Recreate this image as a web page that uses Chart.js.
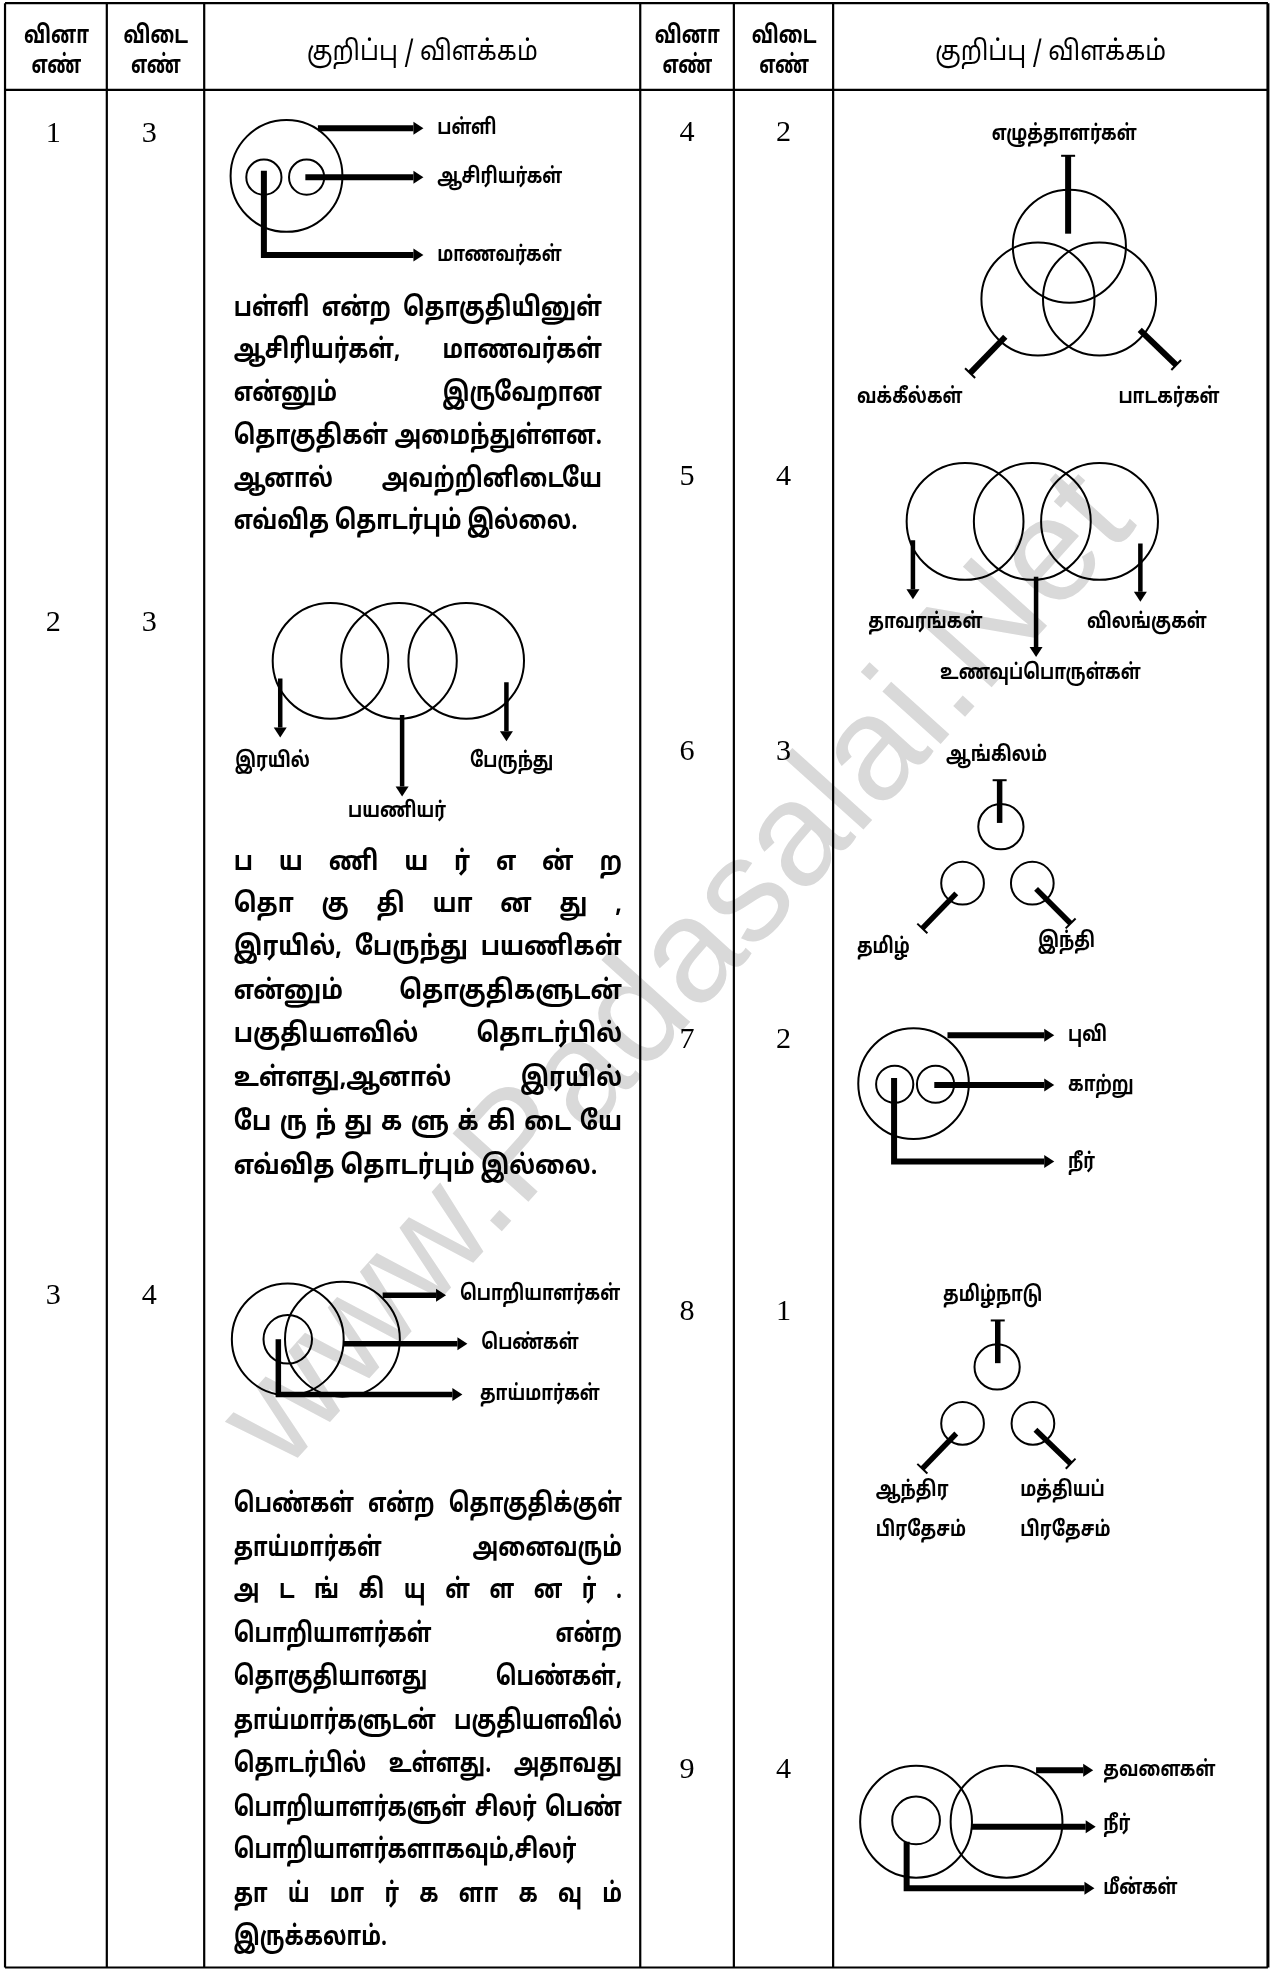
<!DOCTYPE html>
<html lang="ta">
<head>
<meta charset="utf-8">
<title>வினா - விடை விளக்கம்</title>
<script src="https://cdn.jsdelivr.net/npm/chart.js@4.4.1/dist/chart.umd.min.js"></script>
<style>
  html, body { margin: 0; padding: 0; background: #fff; }
  #page { position: relative; width: 1283px; height: 1970px; overflow: hidden; }
  #chart { position: absolute; left: 0; top: 0; z-index: 1; }
  .layer { position: absolute; left: 0; top: 0; width: 1021px; height: 1568px;
           transform: scale(1.25661, 1.25638); transform-origin: 0 0; }
  #mark { z-index: 0; }
  #text { z-index: 2; }
  .t { position: absolute; white-space: nowrap; line-height: 1; color: #000;
       font-family: "Noto Sans Tamil", "Lohit Tamil", "Noto Sans", sans-serif; }
  .num { font-family: "Liberation Serif", "DejaVu Serif", serif; font-size: 24px; font-weight: normal;
         transform: translate(-50%, -50%); }
  .head { font-size: 20px; font-weight: bold; transform: translate(-50%, -50%) scaleX(0.74); }
  .note { font-size: 22px; font-weight: normal; transform: translate(-50%, -50%) scaleX(0.88); }
  .lab { font-size: 17px; font-weight: bold; transform: translateY(-50%) scaleX(0.8); transform-origin: 0 50%; }
  .lab.c { transform: translate(-50%, -50%) scaleX(0.8); transform-origin: 50% 50%; }
  .pl { font-size: 21.5px; font-weight: bold; transform-origin: 0 50%; }
  .pl.j { display: flex; justify-content: space-between; }
  .wm { position: absolute; white-space: nowrap; line-height: 1; color: #d9d9d9;
        font-family: "Liberation Sans", Arial, sans-serif; font-size: 118px;
        transform: translate(-50%, -50%) rotate(-48deg); }
</style>
</head>
<body>
<div id="page">
  <div id="mark" class="layer"></div>
  <canvas id="chart" width="1283" height="1970"></canvas>
  <div id="text" class="layer"></div>
</div>
<script>
// all values are in units of the reference page, 1021 wide x 1568 tall

// table frame
const colEdges = [4, 85, 162.5, 509.5, 584, 663, 1009];
const rowEdges = [2.5, 71.6, 1566];

// header texts
const headQ = ['வினா', 'எண்'];
const headA = ['விடை', 'எண்'];
const headNote = 'குறிப்பு / விளக்கம்';

// question / answer numbers
const leftQ = ['1', '2', '3'];
const leftA = ['3', '3', '4'];
const leftRowY = [105, 494, 1030];
const rightQ = ['4', '5', '6', '7', '8', '9'];
const rightA = ['2', '4', '3', '2', '1', '4'];
const rightRowY = [104, 378, 597, 826, 1043, 1407];

// explanations (one entry per printed line)
const para1 = [
  'பள்ளி என்ற தொகுதியினுள்',
  'ஆசிரியர்கள், மாணவர்கள்',
  'என்னும் இருவேறான',
  'தொகுதிகள் அமைந்துள்ளன.',
  'ஆனால் அவற்றினிடையே',
  'எவ்வித தொடர்பும் இல்லை.'
];
const para1Y = [246, 280, 314, 348, 382, 416];
const para2 = [
  'ப ய ணி ய ர் எ ன் ற',
  'தொ கு தி யா ன து ,',
  'இரயில், பேருந்து பயணிகள்',
  'என்னும் தொகுதிகளுடன்',
  'பகுதியளவில் தொடர்பில்',
  'உள்ளது,ஆனால் இரயில்',
  'பே ரு ந் து க ளு க் கி டை யே',
  'எவ்வித தொடர்பும் இல்லை.'
];
const para2Y = [687, 721, 755, 790, 824, 859, 894, 929];
const para3 = [
  'பெண்கள் என்ற தொகுதிக்குள்',
  'தாய்மார்கள் அனைவரும்',
  'அ ட ங் கி யு ள் ள ன ர் .',
  'பொறியாளர்கள் என்ற',
  'தொகுதியானது பெண்கள்,',
  'தாய்மார்களுடன் பகுதியளவில்',
  'தொடர்பில் உள்ளது. அதாவது',
  'பொறியாளர்களுள் சிலர் பெண்',
  'பொறியாளர்களாகவும்,சிலர்',
  'தா ய் மா ர் க ளா க வு ம்',
  'இருக்கலாம்.'
];
const para3Y = [1198, 1232.5, 1267, 1301.5, 1336, 1370.5, 1405, 1439.5, 1474, 1508.5, 1543];

// diagrams: circles [cx, cy, r], arrows [points...], labels [text, x, y, align]
const d1Circles = [[228, 140, 44.5], [210, 141, 14], [244, 141, 14]];
const d1Arrows = [[[253, 102], [329, 102]], [[243, 141], [329, 141]], [[210, 136], [210, 203], [329, 203]]];
const d1Labels = [['பள்ளி', 348, 102], ['ஆசிரியர்கள்', 348, 141], ['மாணவர்கள்', 348, 203]];

const d2Circles = [[263, 526, 46], [317.5, 526, 46], [371, 526, 46]];
const d2Arrows = [[[223, 540], [223, 579]], [[320, 569], [320, 626]], [[403, 543], [403, 582]]];
const d2Labels = [['இரயில்', 187, 606], ['பேருந்து', 374, 606], ['பயணியர்', 277, 646]];

const d3Circles = [[229, 1066, 44.5], [229, 1066, 19.3], [272.5, 1066, 45.7]];
const d3Arrows = [[[304.5, 1031], [347, 1031]], [[273, 1069.5], [364, 1069.5]], [[221.5, 1066], [221.5, 1110], [360, 1110]]];
const d3Labels = [['பொறியாளர்கள்', 366, 1030], ['பெண்கள்', 383, 1069], ['தாய்மார்கள்', 382, 1110]];

const d4Circles = [[851, 196, 45], [826, 238, 45], [875, 238, 45]];
const d4Arrows = [[[850, 186], [850, 124]], [[800, 268], [772, 297]], [[907, 262.5], [936, 290.5]]];
const d4Labels = [['எழுத்தாளர்கள்', 847, 107, 'c'], ['வக்கீல்கள்', 682, 316], ['பாடகர்கள்', 889.5, 316]];

const d5Circles = [[768, 415, 46.5], [821.5, 415, 46.5], [875, 415, 46.5]];
const d5Arrows = [[[726.5, 430], [726.5, 469]], [[824.5, 459], [824.5, 515]], [[907.5, 432.5], [907.5, 471]]];
const d5Labels = [['தாவரங்கள்', 690.5, 495], ['விலங்குகள்', 865, 495], ['உணவுப்பொருள்கள்', 828, 536, 'c']];

const d6Circles = [[796.5, 658, 18], [766, 703, 17], [821.5, 703, 17]];
const d6Arrows = [[[795.5, 655], [795.5, 621]], [[761, 711], [734, 739]], [[824.5, 707.5], [852, 735]]];
const d6Labels = [['ஆங்கிலம்', 792.5, 601, 'c'], ['தமிழ்', 682, 754], ['இந்தி', 826, 749]];

const d7Circles = [[727, 862.5, 44], [712, 863, 14.8], [744.5, 863, 14.8]];
const d7Arrows = [[[754, 824], [831, 824]], [[743.5, 863.5], [831, 863.5]], [[711.5, 858], [711.5, 924.5], [831, 924.5]]];
const d7Labels = [['புவி', 850, 824], ['காற்று', 850, 863.5], ['நீர்', 850, 924.5]];

const d8Circles = [[793.5, 1088, 18], [766, 1133, 17], [822, 1133, 17]];
const d8Arrows = [[[794, 1085], [794, 1051]], [[761, 1141], [734, 1169]], [[824, 1138], [852, 1165]]];
const d8Labels = [['தமிழ்நாடு', 789.5, 1031, 'c'], ['ஆந்திர', 697, 1186], ['பிரதேசம்', 697, 1218],
                  ['மத்தியப்', 812, 1186], ['பிரதேசம்', 812, 1218]];

const d9Circles = [[729, 1450, 44.5], [801, 1450, 44.5], [729, 1449, 19]];
const d9Arrows = [[[824.5, 1409], [862, 1409]], [[773, 1454], [864, 1454]], [[721.5, 1466], [721.5, 1503], [863, 1503]]];
const d9Labels = [['தவளைகள்', 878, 1409], ['நீர்', 878, 1452], ['மீன்கள்', 878, 1503]];

const watermark = 'www.Padasalai.Net';

// ---------------------------------------------------------------

const diagrams = [
  { circles: d1Circles, arrows: d1Arrows, labels: d1Labels, head: 'arrow', shaft: 6 },
  { circles: d2Circles, arrows: d2Arrows, labels: d2Labels, head: 'arrow', shaft: 4.5 },
  { circles: d3Circles, arrows: d3Arrows, labels: d3Labels, head: 'arrow', shaft: 5.5 },
  { circles: d4Circles, arrows: d4Arrows, labels: d4Labels, head: 'tee', shaft: 6 },
  { circles: d5Circles, arrows: d5Arrows, labels: d5Labels, head: 'arrow', shaft: 4.5 },
  { circles: d6Circles, arrows: d6Arrows, labels: d6Labels, head: 'tee', shaft: 5.5 },
  { circles: d7Circles, arrows: d7Arrows, labels: d7Labels, head: 'arrow', shaft: 6 },
  { circles: d8Circles, arrows: d8Arrows, labels: d8Labels, head: 'tee', shaft: 5.5 },
  { circles: d9Circles, arrows: d9Arrows, labels: d9Labels, head: 'arrow', shaft: 6 }
];

function pathSet(points, width, head) {
  return {
    data: points.map(p => ({ x: p[0], y: p[1] })),
    showLine: true,
    borderColor: '#000',
    borderWidth: width,
    borderCapStyle: 'butt',
    borderJoinStyle: 'miter',
    pointRadius: 0,
    pointHoverRadius: 0,
    tension: 0,
    clip: false,
    head: head
  };
}

const datasets = [];
const x0 = colEdges[0], x1 = colEdges[colEdges.length - 1];
const y0 = rowEdges[0], y1 = rowEdges[rowEdges.length - 1];
rowEdges.forEach(y => datasets.push(pathSet([[x0, y], [x1, y]], 2.2)));
colEdges.forEach((x, i) => datasets.push(pathSet([[x, y0], [x, y1]], i === colEdges.length - 1 ? 3 : 2.2)));

const allCircles = [];
diagrams.forEach(d => {
  d.circles.forEach(c => allCircles.push({ x: c[0], y: c[1], r: c[2] }));
  d.arrows.forEach(a => datasets.push(pathSet(a, d.shaft, d.head)));
});

function radiusPx(c) {
  if (!c.raw) return 0;
  const s = c.chart.scales.x;
  return s.getPixelForValue(c.raw.r) - s.getPixelForValue(0);
}
datasets.push({
  data: allCircles,
  showLine: false,
  pointRadius: radiusPx,
  pointHoverRadius: radiusPx,
  pointBorderWidth: 2,
  pointBorderColor: '#000',
  pointBackgroundColor: 'rgba(0,0,0,0)',
  clip: false
});

// draws the head of every arrow from the last two points of its dataset
const arrowHeads = {
  id: 'arrowHeads',
  afterDatasetsDraw(chart) {
    const ctx = chart.ctx;
    chart.data.datasets.forEach((ds, i) => {
      if (!ds.head) return;
      const pts = chart.getDatasetMeta(i).data;
      const a = pts[pts.length - 2], b = pts[pts.length - 1];
      const len = Math.hypot(b.x - a.x, b.y - a.y);
      const ux = (b.x - a.x) / len, uy = (b.y - a.y) / len;
      ctx.save();
      ctx.fillStyle = '#000';
      ctx.strokeStyle = '#000';
      if (ds.head === 'arrow') {
        const L = 10, W = 6.5;
        ctx.beginPath();
        ctx.moveTo(b.x + ux * L, b.y + uy * L);
        ctx.lineTo(b.x - uy * W, b.y + ux * W);
        ctx.lineTo(b.x + uy * W, b.y - ux * W);
        ctx.closePath();
        ctx.fill();
      } else {
        const W = 7;
        ctx.lineWidth = 2;
        ctx.beginPath();
        ctx.moveTo(b.x - uy * W, b.y + ux * W);
        ctx.lineTo(b.x + uy * W, b.y - ux * W);
        ctx.stroke();
      }
      ctx.restore();
    });
  }
};

new Chart(document.getElementById('chart'), {
  type: 'scatter',
  data: { datasets: datasets },
  options: {
    responsive: false,
    animation: false,
    events: [],
    layout: { padding: 0 },
    plugins: { legend: { display: false }, tooltip: { enabled: false } },
    scales: {
      x: { type: 'linear', min: 0, max: 1021, display: false },
      y: { type: 'linear', min: 0, max: 1568, reverse: true, display: false }
    }
  },
  plugins: [arrowHeads]
});

// ---------------- text layer ----------------
const layer = document.getElementById('text');
function put(cls, text, x, y) {
  const el = document.createElement('div');
  el.className = 't ' + cls;
  el.textContent = text;
  el.style.left = x + 'px';
  el.style.top = y + 'px';
  layer.appendChild(el);
  return el;
}

const colMid = i => (colEdges[i] + colEdges[i + 1]) / 2;
[0, 3].forEach(k => {
  put('head', headQ[0], colMid(k), 29);
  put('head', headQ[1], colMid(k), 53);
  put('head', headA[0], colMid(k + 1), 29);
  put('head', headA[1], colMid(k + 1), 53);
  put('note', headNote, colMid(k + 2), 43);
});

leftQ.forEach((q, i) => {
  put('num', q, colMid(0) - 2, leftRowY[i]);
  put('num', leftA[i], colMid(1) - 5, leftRowY[i]);
});
rightQ.forEach((q, i) => {
  put('num', q, colMid(3), rightRowY[i]);
  put('num', rightA[i], colMid(4), rightRowY[i]);
});

diagrams.forEach(d => d.labels.forEach(l => put(l[3] === 'c' ? 'lab c' : 'lab', l[0], l[1], l[2])));

// each paragraph is squeezed horizontally so that its widest line fits the column
function paragraph(lines, ys, left, width) {
  const probe = put('pl', '', 0, 0);
  probe.style.visibility = 'hidden';
  let s = 1;
  lines.forEach((line, i) => {
    const words = line.split(' ');
    const justify = i < lines.length - 1 && words.length > 1;
    probe.textContent = justify ? words.join('') : line;
    const room = justify ? width - 7 * (words.length - 1) : width;
    s = Math.min(s, room / probe.offsetWidth);
  });
  probe.remove();

  lines.forEach((line, i) => {
    const words = line.split(' ');
    const justify = i < lines.length - 1 && words.length > 1;
    const el = document.createElement('div');
    el.className = 't pl' + (justify ? ' j' : '');
    el.style.left = left + 'px';
    el.style.top = ys[i] + 'px';
    el.style.width = (width / s) + 'px';
    el.style.transform = 'translateY(-50%) scaleX(' + s + ')';
    if (justify) {
      words.forEach(w => {
        const sp = document.createElement('span');
        sp.textContent = w;
        el.appendChild(sp);
      });
    } else {
      el.textContent = line;
    }
    layer.appendChild(el);
  });
}
paragraph(para1, para1Y, 186, 293);
paragraph(para2, para2Y, 186, 309);
paragraph(para3, para3Y, 186, 309);

const wm = document.createElement('div');
wm.className = 'wm';
wm.textContent = watermark;
wm.style.left = '535px';
wm.style.top = '768px';
document.getElementById('mark').appendChild(wm);
</script>
</body>
</html>
